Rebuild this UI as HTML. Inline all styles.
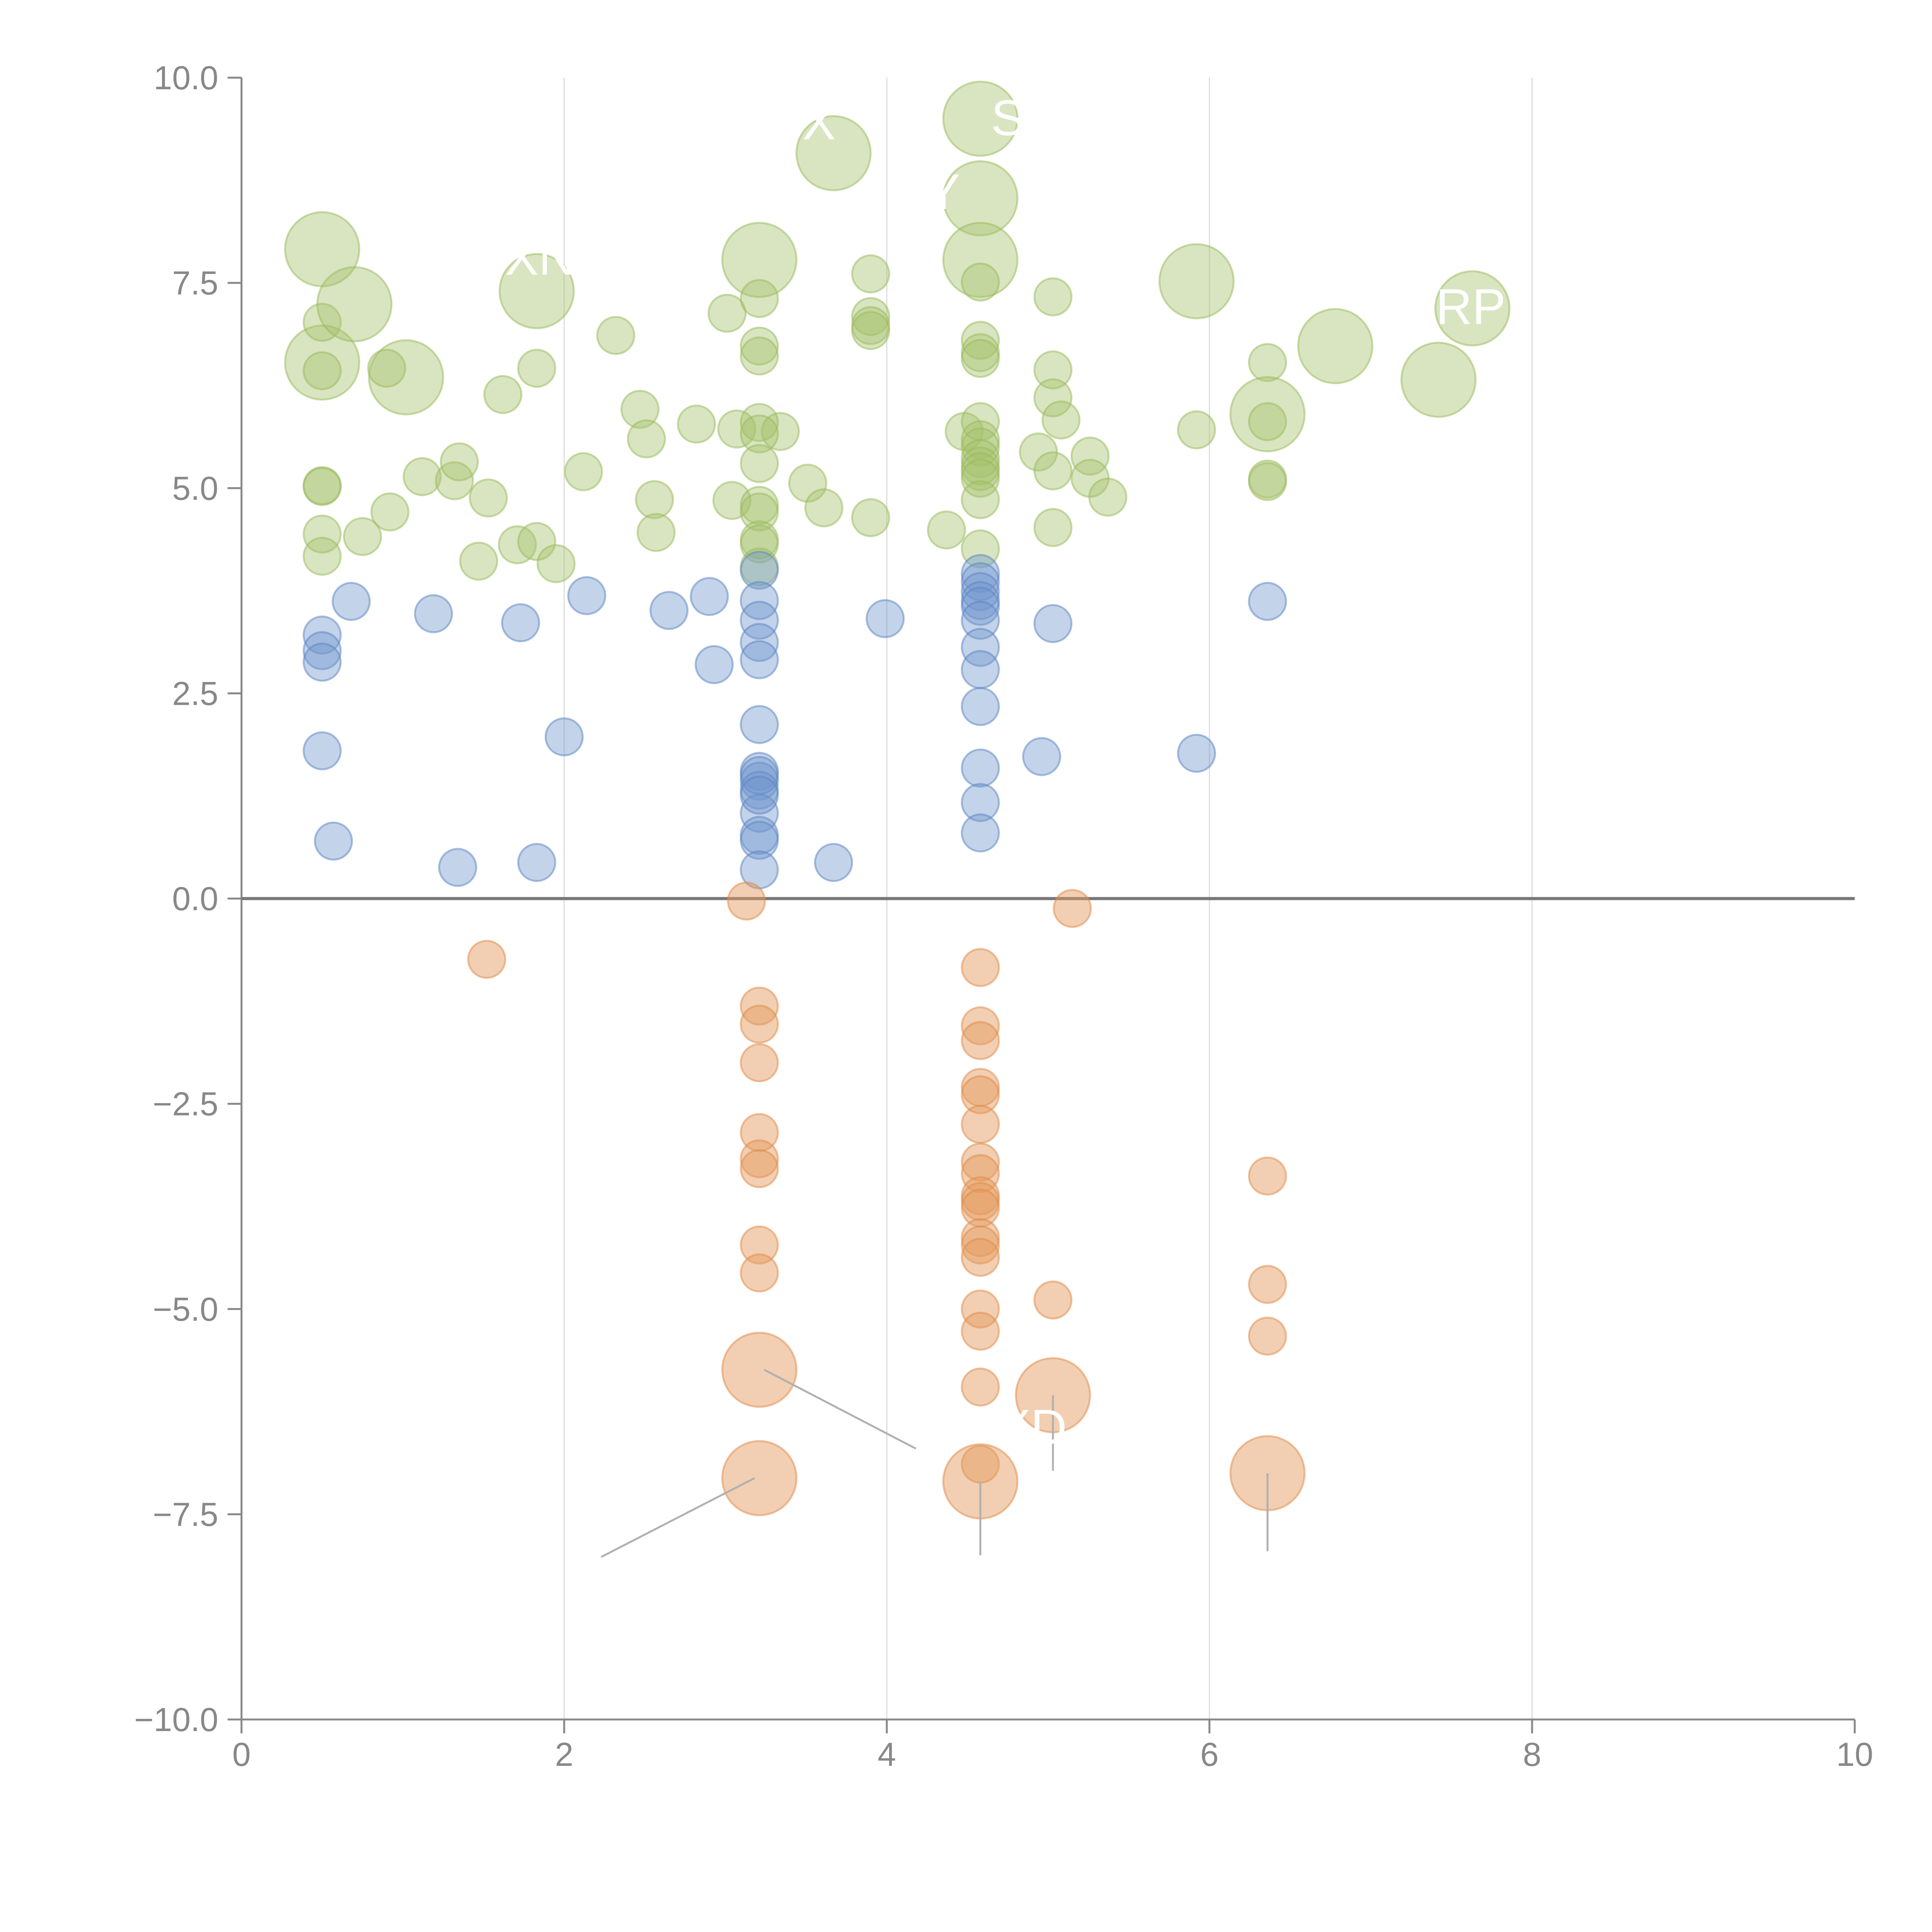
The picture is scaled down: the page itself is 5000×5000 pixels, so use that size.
<!DOCTYPE html>
<html><head><meta charset="utf-8"><style>
html,body{margin:0;padding:0;background:#fff}
svg{display:block;font-family:"Liberation Sans",Arial,sans-serif}
</style></head><body>
<svg id="chart" width="5000" height="5000" viewBox="0 0 5000 5000" xmlns="http://www.w3.org/2000/svg">
<g id="grid"></g>
<g id="axes"></g>
<g id="marks"></g>
<g id="annots"></g>
</svg>
<script>
const xTicks=[0,2,4,6,8,10];
const yTicks=[10,7.5,5,2.5,0,-2.5,-5,-7.5,-10];
const yTickLabels=["10.0","7.5","5.0","2.5","0.0","\u22122.5","\u22125.0","\u22127.5","\u221210.0"];
const blueX=[0.5,0.5,0.5,0.5,0.68,0.57,1.19,1.34,1.73,1.83,2.0,2.14,2.65,2.9,2.93,3.21,3.21,3.21,3.21,3.21,3.21,3.21,3.21,3.21,3.21,3.21,3.21,3.21,3.21,3.21,3.67,3.99,4.58,4.58,4.58,4.58,4.58,4.58,4.58,4.58,4.58,4.58,4.58,4.58,4.96,5.03,5.92,6.36];
const blueY=[3.21,3.02,2.88,1.8,3.62,0.7,3.47,0.38,3.36,0.44,1.97,3.69,3.51,3.68,2.85,4.0,3.63,3.39,3.12,2.91,2.12,1.55,1.43,1.32,1.04,0.77,0.71,0.35,1.5,1.26,0.44,3.41,3.96,3.86,3.74,3.63,3.56,3.39,3.06,2.79,2.34,1.59,1.17,0.8,1.73,3.35,1.77,3.62];
const orangeX=[1.52,3.13,5.15,3.21,3.21,3.21,3.21,3.21,3.21,3.21,3.21,3.21,3.21,4.58,4.58,4.58,4.58,4.58,4.58,4.58,4.58,4.58,4.58,4.58,4.58,4.58,4.58,4.58,4.58,4.58,4.58,4.58,5.03,5.03,6.36,6.36,6.36,6.36];
const orangeY=[-0.74,-0.03,-0.12,-1.31,-1.53,-2.0,-2.85,-3.17,-3.29,-4.22,-4.56,-5.74,-7.06,-0.84,-1.55,-1.73,-2.3,-2.39,-2.75,-3.21,-3.35,-3.62,-3.69,-3.77,-4.13,-4.22,-4.37,-5.0,-5.27,-5.95,-6.89,-7.1,-4.89,-6.05,-3.38,-4.7,-5.33,-7.0];
const orangeBig=[0,0,0,0,0,0,0,0,0,0,0,1,1,0,0,0,0,0,0,0,0,0,0,0,0,0,0,0,0,0,0,1,0,1,0,0,0,1];
const greenX=[0.5,0.5,0.5,0.5,0.5,0.5,0.5,0.5,0.7,1.02,0.9,0.75,0.92,1.12,1.32,1.35,1.53,1.47,1.62,1.71,1.83,1.83,1.83,1.95,2.12,2.32,2.47,2.51,2.56,2.57,2.82,3.01,3.04,3.07,3.34,3.51,3.61,3.67,3.21,3.21,3.21,3.21,3.21,3.21,3.21,3.21,3.21,3.21,3.21,3.21,3.9,3.9,3.9,3.9,3.9,4.37,4.48,4.58,4.58,4.58,4.58,4.58,4.58,4.58,4.58,4.58,4.58,4.58,4.58,4.58,4.58,4.58,4.58,4.94,5.03,5.03,5.03,5.08,5.03,5.03,5.26,5.26,5.37,5.92,5.92,6.36,6.36,6.36,6.36,6.36,6.78,7.42,7.63];
const greenY=[7.91,6.53,7.02,6.43,5.03,5.02,4.44,4.17,7.24,6.35,6.46,4.41,4.71,5.14,5.09,5.32,4.88,4.11,6.14,4.31,4.35,6.46,7.4,4.08,5.2,6.86,5.96,5.6,4.86,4.46,5.78,7.13,4.85,5.72,5.69,5.06,4.76,9.08,7.78,7.31,6.73,6.61,5.8,5.66,5.3,4.79,4.71,4.37,4.32,4.04,7.61,7.09,6.98,6.92,4.64,4.49,5.69,9.5,8.53,7.78,7.51,6.8,6.65,6.58,5.81,5.59,5.5,5.36,5.27,5.2,5.12,4.86,4.26,5.44,7.33,6.44,6.1,5.83,5.21,4.52,5.39,5.12,4.89,7.52,5.71,6.53,5.9,5.81,5.11,5.08,6.73,6.32,7.19];
const greenBig=[1,1,0,0,0,0,0,0,1,1,0,0,0,0,0,0,0,0,0,0,0,0,1,0,0,0,0,0,0,0,0,0,0,0,0,0,0,1,1,0,0,0,0,0,0,0,0,0,0,0,0,0,0,0,0,0,0,1,1,1,0,0,0,0,0,0,0,0,0,0,0,0,0,0,0,0,0,0,0,0,0,0,0,1,0,0,1,0,0,0,1,1,1];
const annX1=[3.18,3.24,4.58,5.03,6.36];
const annY1=[-7.06,-5.74,-7.1,-6.05,-7.0];
const annX2=[2.23,4.18,4.58,5.03,6.36];
const annY2=[-8.02,-6.7,-8.0,-6.97,-7.95];
const labelText=["X","S","Y","XN","RP","XD"];
const labelX=[3.58,4.75,4.35,1.85,7.62,4.9];
const labelY=[9.25,9.3,8.4,7.6,7.0,-6.65];

const NS="http://www.w3.org/2000/svg";
const X=v=>625+v*417.5;
const Y=v=>2325.5-v*212.45;
function mk(tag,attrs,parent){const e=document.createElementNS(NS,tag);for(const k in attrs)e.setAttribute(k,attrs[k]);parent.appendChild(e);return e;}
const grid=document.getElementById('grid'),axes=document.getElementById('axes'),marks=document.getElementById('marks'),annots=document.getElementById('annots');

xTicks.forEach(t=>{
  if(t>0&&t<10){const g=mk('line',{x1:X(t),x2:X(t),y1:Y(10),y2:Y(-10),stroke:'#dcdcdc','stroke-width':3},grid);
  
  }
  const tk=mk('line',{x1:X(t),x2:X(t),y1:Y(-10),y2:Y(-10)+36,stroke:'#888','stroke-width':5},axes);
  
  
  const tx=mk('text',{x:X(t),y:4570,'font-size':86,fill:'#888','text-anchor':'middle'},axes);
  tx.textContent=t;
  
  
});
yTicks.forEach((t,i)=>{
  const tk=mk('line',{x1:X(0)-36,x2:X(0),y1:Y(t),y2:Y(t),stroke:'#888','stroke-width':5},axes);
  
  
  const tx=mk('text',{x:565,y:Y(t)+30,'font-size':86,fill:'#888','text-anchor':'end'},axes);
  tx.textContent=yTickLabels[i];
  
  
});
const ya=mk('line',{x1:X(0),x2:X(0),y1:Y(10),y2:Y(-10),stroke:'#888','stroke-width':5},axes);


const xa=mk('line',{x1:X(0),x2:X(10),y1:Y(-10),y2:Y(-10),stroke:'#888','stroke-width':5},axes);


const zl=mk('line',{x1:X(0),x2:X(10),y1:Y(0),y2:Y(0),stroke:'#777','stroke-width':8},axes);



function series(xs,ys,big,fill,stroke,op,name){
  xs.forEach((x,i)=>{
    const r=big&&big[i]?96:48;
    const c=mk('circle',{cx:X(x),cy:Y(ys[i]),r:r,fill:fill,'fill-opacity':op,stroke:stroke,'stroke-opacity':0.5,'stroke-width':5},marks);
    
    
  });
}
series(greenX,greenY,greenBig,'#a5c26c','#98b95a',0.42,'green-bubble');
series(blueX,blueY,null,'#6f96cc','#5a84c0',0.42,'blue-bubble');
series(orangeX,orangeY,orangeBig,'#e39a5e','#e08a48',0.48,'orange-bubble');

annX1.forEach((x,i)=>{
  const l=mk('line',{x1:X(x),y1:Y(annY1[i]),x2:X(annX2[i]),y2:Y(annY2[i]),stroke:'#b0b0b0','stroke-width':5},annots);
  
  
});
labelText.forEach((t,i)=>{
  const tx=mk('text',{x:X(labelX[i]),y:Y(labelY[i]),'font-size':130,fill:'#fff','text-anchor':'middle'},annots);
  tx.textContent=t;
  
  
});
</script>
</body></html>
